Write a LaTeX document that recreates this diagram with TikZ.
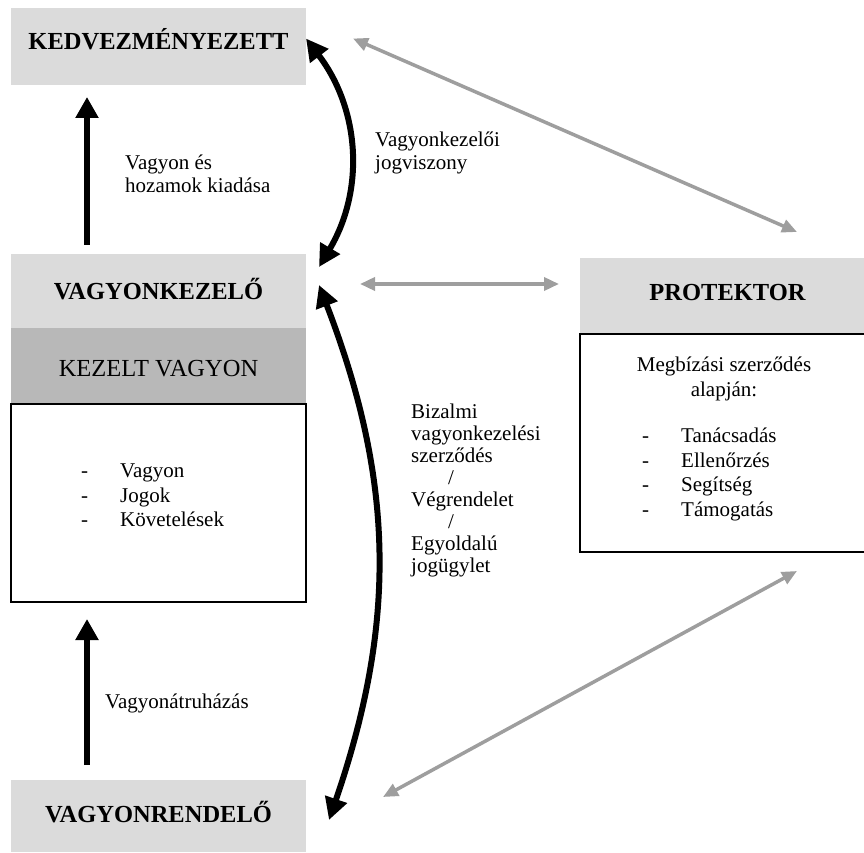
\documentclass[tikz,border=0pt]{standalone}
\usepackage{fontspec}
\setmainfont{Liberation Serif}
\usetikzlibrary{positioning, arrows.meta}

\definecolor{lightbox}{gray}{0.86}
\definecolor{darkbox}{gray}{0.72}
\definecolor{linkgray}{gray}{0.62}

\begin{document}
\begin{tikzpicture}[
        x=1pt, y=1pt,
        title/.style={rectangle, fill=lightbox, minimum width=295pt, minimum height=76pt, inner sep=0pt, outer sep=0pt, font=\fontsize{24.5}{29}\selectfont\bfseries, text height=18pt, text depth=0pt},
        subtitle/.style={title, fill=darkbox, font=\fontsize{24.5}{29}\selectfont},
        content/.style={rectangle, draw=black, line width=1.2pt, fill=white, minimum width=295pt, inner sep=0pt, outer sep=0pt},
        txt/.style={inner sep=0pt, font=\fontsize{21}{24.5}\selectfont},
        bigarrow/.style={-{Triangle[length=21pt, width=22pt]}, line width=6.5pt},
        link/.style={{Triangle[length=22pt, width=22pt]}-{Triangle[length=22pt, width=22pt]}, line width=6pt},
        side/.style={{Triangle[length=15pt, width=13pt]}-{Triangle[length=15pt, width=13pt]}, line width=3.5pt, draw=linkgray}
        ]
        \useasboundingbox (0,0) rectangle (864,852);

        % left column
        \node[title, minimum height=77pt, text depth=12pt] (kedv) at (158.5,805.5) {KEDVEZMÉNYEZETT};
        \node[title, minimum height=74pt] (kezelo) at (158.5,561) {VAGYONKEZELŐ};
        \node[subtitle, below=0pt of kezelo, text height=21pt] (kezelt) {KEZELT VAGYON};
        \node[content, minimum height=198pt, below=0pt of kezelt] (vagyon) {};
        \node[title, minimum height=72pt, text depth=6pt] (rendelo) at (158.5,36) {VAGYONRENDELŐ};

        % protektor
        \node[title, text depth=9pt] (prot) at (727.5,556) {PROTEKTOR};
        \node[content, minimum height=218pt, below=0pt of prot] (protbox) {};

        % texts
        \node[txt, anchor=base west] (vlist) at (81,374) {\begin{tabular}[t]{@{}p{39pt}@{}l@{}}-&Vagyon\\-&Jogok\\-&Követelések\end{tabular}};
        \node[txt, anchor=base] (megb) at (724,480) {\begin{tabular}[t]{@{}c@{}}Megbízási szerződés\\alapján:\end{tabular}};
        \node[txt, anchor=base west] (plist) at (642,409) {\begin{tabular}[t]{@{}p{39pt}@{}l@{}}-&Tanácsadás\\-&Ellenőrzés\\-&Segítség\\-&Támogatás\end{tabular}};
        \node[txt, anchor=base west, font=\fontsize{21}{23}\selectfont] (kiadas) at (125,682) {\begin{tabular}[t]{@{}l@{}}Vagyon és\\hozamok kiadása\end{tabular}};
        \node[txt, anchor=base west, font=\fontsize{21}{23}\selectfont] (jogv) at (375,705) {\begin{tabular}[t]{@{}l@{}}Vagyonkezelői\\jogviszony\end{tabular}};
        \node[txt, anchor=base west, font=\fontsize{21}{22}\selectfont] (jogcim) at (411,433) {\begin{tabular}[t]{@{}l@{}}Bizalmi\\vagyonkezelési\\szerződés\\\hspace{37pt}/\\Végrendelet\\\hspace{37pt}/\\Egyoldalú\\jogügylet\end{tabular}};
        \node[txt, anchor=base west] (atruh) at (105,144) {Vagyonátruházás};

        % arrows
        \draw[bigarrow] ([xshift=-71.5pt,yshift=9pt]kezelo.north) -- ([xshift=-71.5pt,yshift=-12pt]kedv.south);
        \draw[bigarrow] ([xshift=-71.5pt,yshift=15pt]rendelo.north) -- ([xshift=-71.5pt,yshift=-17pt]vagyon.south);
        \draw[link] ([yshift=8pt]kedv.east) to[bend left=34] ([xshift=13pt,yshift=-13pt]kezelo.north east);
        \draw[link] ([xshift=13pt,yshift=6pt]kezelo.east) to[bend left=20] ([xshift=23pt,yshift=-4pt]rendelo.east);
        \draw[side] ([xshift=47pt,yshift=8pt]kedv.east) -- ([xshift=217pt,yshift=26pt]prot.north west);
        \draw[side] ([xshift=54pt,yshift=7pt]kezelo.east) -- ([xshift=-21pt,yshift=12pt]prot.west);
        \draw[side] ([xshift=217pt,yshift=-19pt]protbox.south west) -- ([xshift=77pt,yshift=19pt]rendelo.east);
\end{tikzpicture}
\end{document}
